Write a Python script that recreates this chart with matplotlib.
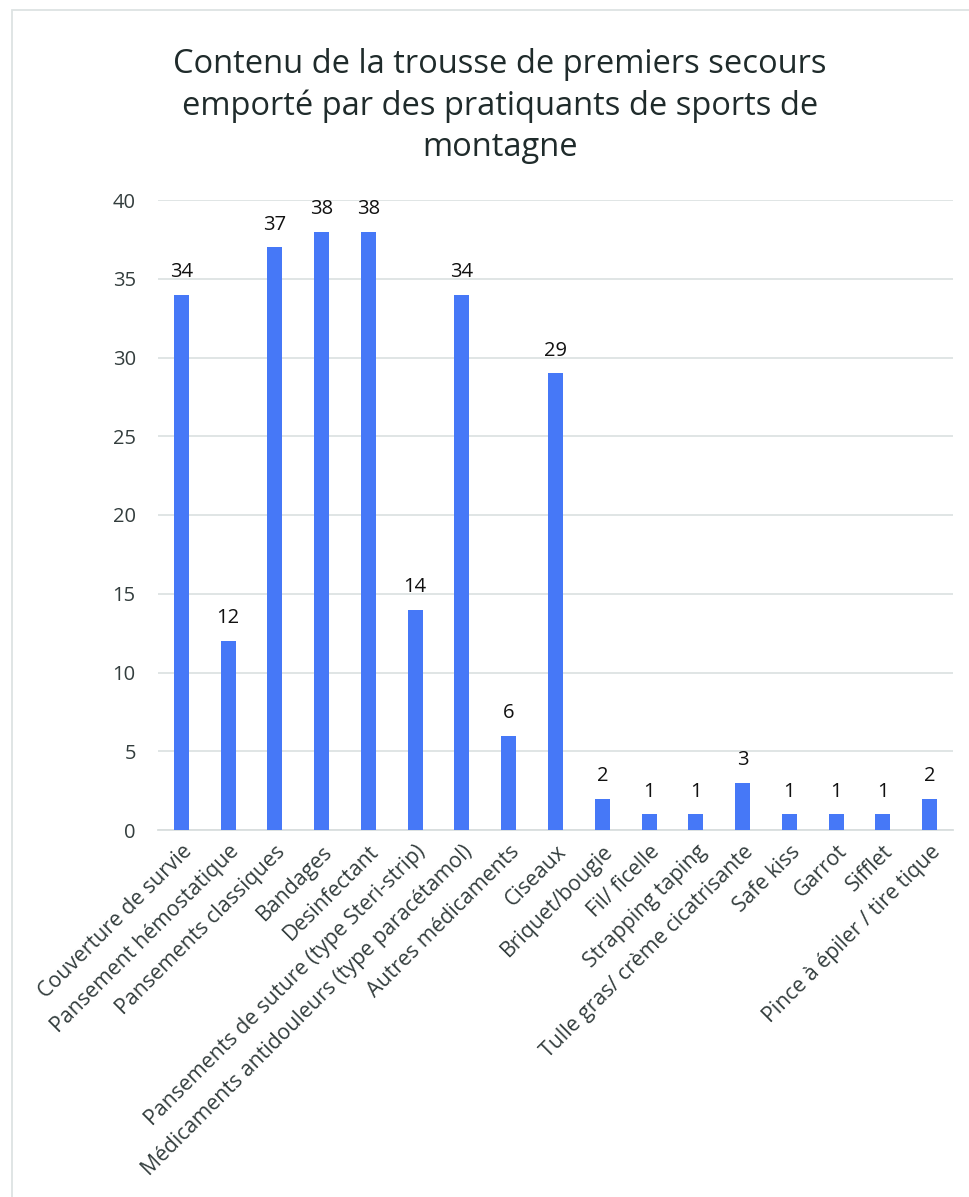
import matplotlib.pyplot as plt
from matplotlib.patches import Rectangle
import numpy as np

# data
categories = [
    "Couverture de survie",
    "Pansement hémostatique",
    "Pansements classiques",
    "Bandages",
    "Desinfectant",
    "Pansements de suture (type Steri-strip)",
    "Médicaments antidouleurs (type paracétamol)",
    "Autres médicaments",
    "Ciseaux",
    "Briquet/bougie",
    "Fil/ ficelle",
    "Strapping taping",
    "Tulle gras/ crème cicatrisante",
    "Safe kiss",
    "Garrot",
    "Sifflet",
    "Pince à épiler / tire tique",
]
counts = [34, 12, 37, 38, 38, 14, 34, 6, 29, 2, 1, 1, 3, 1, 1, 1, 2]
yticks = [0, 5, 10, 15, 20, 25, 30, 35, 40]

plt.rcParams['font.family'] = ['Open Sans', 'DejaVu Sans']

W, H = 970, 1197
fig = plt.figure(figsize=(W / 100, H / 100), dpi=100)

# light chart-area border
fig.patches.append(Rectangle((12 / W, -0.1), 1.2, 1 - 10 / H + 0.1,
                             transform=fig.transFigure, fill=False,
                             edgecolor='#dde3e3', linewidth=1.3))

ax = fig.add_axes([158 / W, 1 - 830 / H, (953 - 158) / W, (830 - 200) / H])
x = np.arange(len(categories))
bars = ax.bar(x, counts, width=0.32, color='#4678f7', zorder=3)

for xi, v in zip(x, counts):
    ax.text(xi, v + 0.8, str(v), ha='center', va='bottom',
            fontsize=14.5, color='#111111')

ax.set_xlim(-0.5, len(categories) - 0.5)
ax.set_ylim(0, 40)
ax.set_yticks(yticks)
ax.set_yticklabels([str(t) for t in yticks], fontsize=14.5, color='#333d3d')
ax.tick_params(axis='y', length=0, pad=16)
ax.tick_params(axis='x', length=0, pad=8)
ax.set_xticks(x)
ax.set_xticklabels(categories, rotation=45, ha='right', va='top',
                   rotation_mode='anchor', fontsize=15.3, color='#333d3d')

ax.grid(axis='y', color='#dde3e3', linewidth=1.3, zorder=0)
for s in ['top', 'right', 'left']:
    ax.spines[s].set_visible(False)
ax.spines['bottom'].set_color('#d9dede')
ax.spines['bottom'].set_linewidth(1.3)

fig.text(500 / W, 1 - 48 / H,
         "Contenu de la trousse de premiers secours\nemporté par des pratiquants de sports de\nmontagne",
         ha='center', va='top', fontsize=23.5, color='#1f2b2b', linespacing=1.33)

fig.savefig('out.png', dpi=100)
